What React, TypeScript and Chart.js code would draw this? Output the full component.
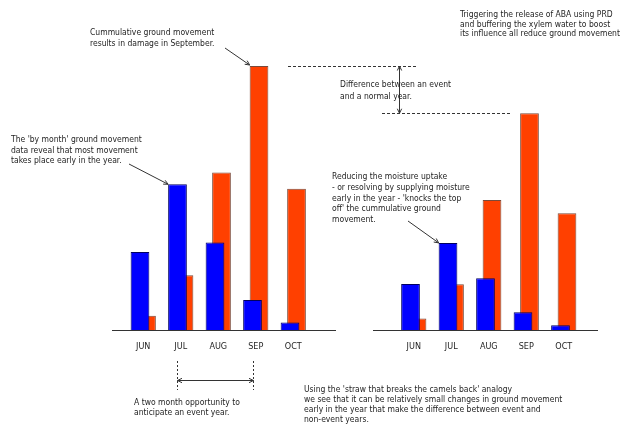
import React, { useEffect, useRef } from "react";
import { Chart, registerables } from "chart.js";

Chart.register(...registerables);

// ---------- data ----------
const MONTHS = ["JUN", "JUL", "AUG", "SEP", "OCT"];
// Event year (left group)
const EVENT_MONTHLY = [29.5, 55.2, 33.1, 11.4, 2.8];
const EVENT_CUMULATIVE = [5.4, 20.7, 59.7, 100, 53.5];
// Managed year (right group)
const MANAGED_MONTHLY = [17.4, 33.0, 19.6, 6.7, 1.8];
const MANAGED_CUMULATIVE = [4.4, 17.3, 49.2, 82.1, 44.2];
const Y_MAX = 100;

// ---------- style ----------
const W = 627;
const H = 428;
const FONT = '"DejaVu Sans Condensed", "DejaVu Sans", sans-serif';
const FONT_SIZE = 8.5;
const TICK_SIZE = 9;
const TEXT = "#1e1e1e";
const LINE = "#333333";
const BLUE = "#0000ff";
const BLUE_EDGE = "#000060";
const ORANGE = "#ff4000";
const ORANGE_EDGE = "#7a4a3a";

function drawLines(ctx: CanvasRenderingContext2D, lines: string[], x: number, y: number, gap: number) {
  ctx.save();
  ctx.font = `${FONT_SIZE}px ${FONT}`;
  ctx.fillStyle = TEXT;
  ctx.textBaseline = "middle";
  ctx.textAlign = "left";
  lines.forEach((l, i) => ctx.fillText(l, x, y + i * gap));
  ctx.restore();
}

function head(ctx: CanvasRenderingContext2D, x: number, y: number, ang: number) {
  const s = 5;
  const a = 0.45;
  ctx.beginPath();
  ctx.moveTo(x - s * Math.cos(ang - a), y - s * Math.sin(ang - a));
  ctx.lineTo(x, y);
  ctx.lineTo(x - s * Math.cos(ang + a), y - s * Math.sin(ang + a));
  ctx.stroke();
}

function arrow(ctx: CanvasRenderingContext2D, x1: number, y1: number, x2: number, y2: number, both = false) {
  ctx.save();
  ctx.strokeStyle = LINE;
  ctx.lineWidth = 1;
  ctx.setLineDash([]);
  ctx.beginPath();
  ctx.moveTo(x1, y1);
  ctx.lineTo(x2, y2);
  ctx.stroke();
  const ang = Math.atan2(y2 - y1, x2 - x1);
  head(ctx, x2, y2, ang);
  if (both) head(ctx, x1, y1, ang + Math.PI);
  ctx.restore();
}

function dashed(ctx: CanvasRenderingContext2D, x1: number, y1: number, x2: number, y2: number, dash: number[]) {
  ctx.save();
  ctx.strokeStyle = LINE;
  ctx.lineWidth = 1;
  ctx.setLineDash(dash);
  ctx.beginPath();
  ctx.moveTo(x1, y1);
  ctx.lineTo(x2, y2);
  ctx.stroke();
  ctx.restore();
}

const leftNotes = {
  id: "leftNotes",
  afterDraw(chart: any) {
    const ctx = chart.ctx as CanvasRenderingContext2D;
    const blue = chart.getDatasetMeta(0).data;
    const orange = chart.getDatasetMeta(1).data;
    // September damage
    drawLines(ctx, ["Cummulative ground movement", "results in damage in September."], 90, 33, 10.5);
    const sep = orange[3];
    arrow(ctx, 225, 48, sep.x - sep.width / 2, sep.y - 1);
    // by month
    drawLines(ctx, ["The 'by month' ground movement", "data reveal that most movement", "takes place early in the year."], 11, 140, 10.5);
    const jul = blue[1];
    arrow(ctx, 129, 164, jul.x - jul.width / 2, jul.y);
    // two month window
    const xa = Math.round(blue[1].x) + 0.5;
    const xb = Math.round(blue[3].x) + 0.5;
    dashed(ctx, xa, 361, xa, 390, [2, 2]);
    dashed(ctx, xb, 361, xb, 390, [2, 2]);
    arrow(ctx, xa, 380.5, xb, 380.5, true);
    drawLines(ctx, ["A two month opportunity to", "anticipate an event year."], 134, 403, 9.5);
    // dashed reference line at event-year peak
    const yTop = Math.round(sep.y) + 0.5;
    dashed(ctx, 288, yTop, 417, yTop, [3, 2]);
  },
};

const rightNotes = {
  id: "rightNotes",
  afterDraw(chart: any) {
    const ctx = chart.ctx as CanvasRenderingContext2D;
    const blue = chart.getDatasetMeta(0).data;
    const orange = chart.getDatasetMeta(1).data;
    const yEvent = chart.scales.y.getPixelForValue(EVENT_CUMULATIVE[3]);
    const sep = orange[3];
    const yLow = Math.round(sep.y) + 0.5;
    dashed(ctx, 382, yLow, 512, yLow, [3, 2]);
    arrow(ctx, 399.5, yEvent, 399.5, sep.y, true);
    drawLines(ctx, ["Difference between an event", "and a normal year."], 340, 85, 11.5);
    drawLines(
      ctx,
      ["Triggering the release of ABA using PRD", "and buffering the xylem water to boost", "its influence all reduce ground movement"],
      460,
      15,
      9.5
    );
    drawLines(
      ctx,
      [
        "Reducing the moisture uptake",
        "- or resolving by supplying moisture",
        "early in the year - 'knocks the top",
        "off' the cummulative ground",
        "movement.",
      ],
      332,
      177,
      10.7
    );
    const jul = blue[1];
    arrow(ctx, 408, 221, jul.x - jul.width / 2, jul.y);
    drawLines(
      ctx,
      [
        "Using the 'straw that breaks the camels back' analogy",
        "we see that it can be relatively small changes in ground movement",
        "early in the year that make the difference between event and",
        "non-event years.",
      ],
      304,
      389.5,
      10
    );
  },
};

function buildConfig(
  monthly: number[],
  cumulative: number[],
  area: { left: number; right: number; top: number; bottom: number },
  xMin: number,
  xMax: number,
  plugin: any
): any {
  return {
    type: "bar",
    data: {
      datasets: [
        {
          label: "Monthly",
          data: monthly.map((v, i) => ({ x: i, y: v })),
          backgroundColor: BLUE,
          borderColor: BLUE_EDGE,
          borderWidth: 1,
          categoryPercentage: 0.3467,
          barPercentage: 2.88,
        },
        {
          label: "Cumulative",
          data: cumulative.map((v, i) => ({ x: i, y: v })),
          backgroundColor: ORANGE,
          borderColor: ORANGE_EDGE,
          borderWidth: 1,
          categoryPercentage: 0.3467,
          barPercentage: 2.88,
        },
      ],
    },
    options: {
      responsive: false,
      animation: false,
      devicePixelRatio: 1,
      layout: { padding: { left: area.left, right: W - area.right, top: area.top, bottom: 0 } },
      plugins: { legend: { display: false }, tooltip: { enabled: false }, title: { display: false } },
      scales: {
        x: {
          type: "linear",
          min: xMin,
          max: xMax,
          offset: false,
          grid: { display: false, drawTicks: false },
          border: { display: true, color: LINE, width: 1 },
          afterBuildTicks: (s: any) => {
            s.ticks = MONTHS.map((_, i) => ({ value: i }));
          },
          afterFit: (s: any) => {
            s.height = H - area.bottom;
          },
          ticks: {
            autoSkip: false,
            maxRotation: 0,
            padding: 11,
            color: TEXT,
            font: { family: FONT, size: TICK_SIZE },
            callback: (v: number) => MONTHS[v] ?? "",
          },
        },
        y: { display: false, min: 0, max: Y_MAX },
      },
    },
    plugins: [plugin],
  };
}

export default function App() {
  const leftRef = useRef<HTMLCanvasElement>(null);
  const rightRef = useRef<HTMLCanvasElement>(null);

  useEffect(() => {
    const left = new Chart(
      leftRef.current!,
      buildConfig(EVENT_MONTHLY, EVENT_CUMULATIVE, { left: 112, right: 335, top: 66, bottom: 330 }, -0.833, 5.113, leftNotes)
    );
    const right = new Chart(
      rightRef.current!,
      buildConfig(MANAGED_MONTHLY, MANAGED_CUMULATIVE, { left: 373, right: 597, top: 66, bottom: 330 }, -1.087, 4.887, rightNotes)
    );
    return () => {
      left.destroy();
      right.destroy();
    };
  }, []);

  const cs: React.CSSProperties = { position: "absolute", left: 0, top: 0, width: W, height: H };
  return (
    <div style={{ position: "fixed", left: 0, top: 0, width: W, height: H, background: "#fff", overflow: "hidden" }}>
      <canvas ref={leftRef} width={W} height={H} style={cs} />
      <canvas ref={rightRef} width={W} height={H} style={cs} />
    </div>
  );
}
